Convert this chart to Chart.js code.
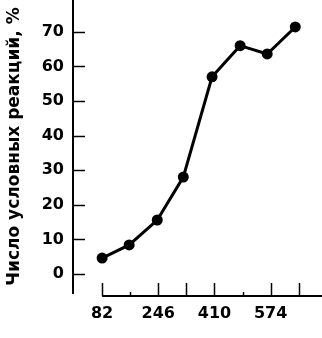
<!DOCTYPE html>
<html>
<head>
<meta charset="utf-8">
<script src="https://cdn.jsdelivr.net/npm/chart.js@4"></script>
<style>
  html, body { margin: 0; padding: 0; background: #fff; }
  #wrap { width: 322px; height: 338px; }
</style>
</head>
<body>
<div id="wrap"><canvas id="chart" width="322" height="338"></canvas></div>
<script>
// data
const xValues = [82, 161, 243, 319, 403, 485, 564, 646];
const reactions = [4.6, 8.4, 15.6, 28, 57, 66, 63.6, 71.4];
const xTicks = [82, 164, 246, 328, 410, 492, 574, 656];
const xLabeled = [82, 246, 410, 574];
const yTicks = [0, 10, 20, 30, 40, 50, 60, 70];
const yTitle = "Число условных реакций, %";

const FONT = "'DejaVu Sans', sans-serif";

// tick marks drawn inside the plot, plus the detached x axis line
const axisMarks = {
    id: "axisMarks",
    afterDraw(chart) {
        const ctx = chart.ctx;
        const x = chart.scales.x, y = chart.scales.y;
        const area = chart.chartArea;
        ctx.save();
        ctx.strokeStyle = "#000";
        ctx.lineWidth = 1.5;
        yTicks.forEach(v => {
            const py = Math.round(y.getPixelForValue(v)) + 0.5;
            ctx.beginPath();
            ctx.moveTo(area.left, py);
            ctx.lineTo(area.left + 12, py);
            ctx.stroke();
        });
        const baseY = area.bottom + 3;
        ctx.lineWidth = 2;
        ctx.beginPath();
        ctx.moveTo(x.getPixelForValue(xTicks[0]), baseY);
        ctx.lineTo(area.right, baseY);
        ctx.stroke();
        ctx.lineWidth = 1.5;
        xTicks.forEach(v => {
            const px = Math.round(x.getPixelForValue(v)) + 0.5;
            const len = (v === 164 || v === 492) ? 4 : 13;
            ctx.beginPath();
            ctx.moveTo(px, baseY);
            ctx.lineTo(px, baseY - len);
            ctx.stroke();
        });
        ctx.restore();
    }
};

new Chart(document.getElementById("chart"), {
    type: "line",
    data: {
        datasets: [{
            data: xValues.map((v, i) => ({ x: v, y: reactions[i] })),
            borderColor: "#000",
            backgroundColor: "#000",
            borderWidth: 3,
            pointRadius: 5.5,
            pointBackgroundColor: "#000",
            pointBorderWidth: 0,
            tension: 0,
            clip: false,
            fill: false
        }]
    },
    options: {
        responsive: false,
        animation: false,
        layout: { padding: 0, autoPadding: false },
        plugins: { legend: { display: false }, tooltip: { enabled: false } },
        scales: {
            x: {
                type: "linear",
                min: -3,
                max: 724,
                afterBuildTicks: s => { s.ticks = xTicks.map(v => ({ value: v })); },
                afterFit: s => { s.height = 45; s.paddingLeft = 0; s.paddingRight = 0; },
                grid: { display: false, drawTicks: false },
                border: { display: false },
                ticks: {
                    color: "#000",
                    padding: 11,
                    maxRotation: 0,
                    autoSkip: false,
                    font: { family: FONT, size: 16, weight: "bold" },
                    callback: v => xLabeled.includes(v) ? String(v) : ""
                }
            },
            y: {
                min: -5.5,
                max: 79.2,
                afterBuildTicks: s => { s.ticks = yTicks.map(v => ({ value: v })); },
                afterFit: s => { s.width = 73; s.paddingTop = 0; s.paddingBottom = 0; },
                grid: { display: false, drawTicks: false },
                border: { display: true, color: "#000", width: 2 },
                ticks: {
                    color: "#000",
                    padding: 9,
                    font: { family: FONT, size: 16, weight: "bold" }
                },
                title: {
                    display: true,
                    text: yTitle,
                    color: "#000",
                    padding: { top: 4, bottom: 0 },
                    font: { family: FONT, size: 17, weight: "bold" }
                }
            }
        }
    },
    plugins: [axisMarks]
});
</script>
</body>
</html>
